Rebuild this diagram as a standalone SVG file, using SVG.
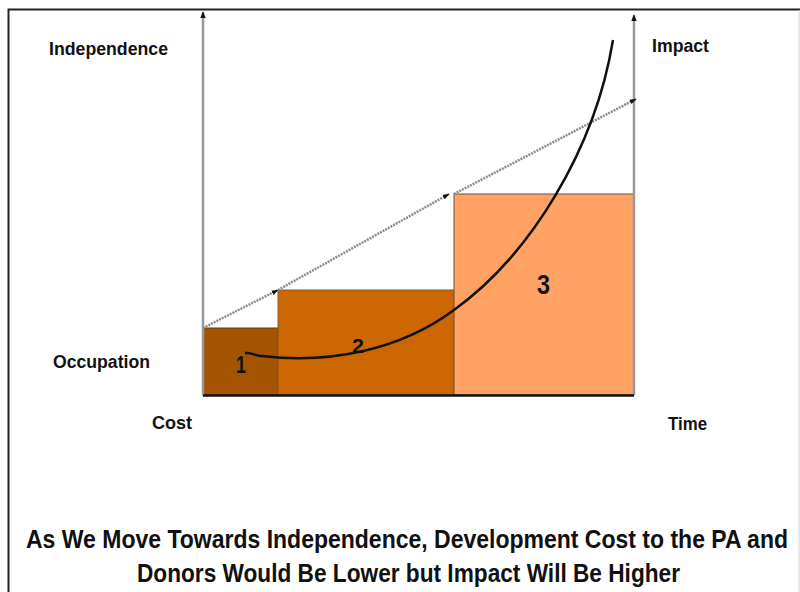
<svg xmlns="http://www.w3.org/2000/svg" width="800" height="592" viewBox="0 0 800 592">
<style>
.lbl{font-family:"Liberation Sans Narrow","Liberation Sans",Arial,sans-serif;font-weight:bold;fill:#111;}
.num{font-family:"Liberation Sans Narrow","Liberation Sans",Arial,sans-serif;font-weight:bold;fill:#111;}
.axis{stroke:#999;stroke-width:2.5;fill:none;}
.diag{stroke:#8c8c8c;stroke-width:2.5;fill:none;stroke-dasharray:2 1;}
</style>
<defs>
<marker id="ah" viewBox="0 0 10 10" refX="9" refY="5" markerWidth="7" markerHeight="7" orient="auto" markerUnits="userSpaceOnUse">
<path d="M0,1 L10,5 L0,9 Z" fill="#111"/>
</marker>
<marker id="ahs" viewBox="0 0 10 10" refX="9" refY="5" markerWidth="7" markerHeight="7" orient="auto" markerUnits="userSpaceOnUse">
<path d="M0,1.5 L10,5 L0,8.5 Z" fill="#111"/>
</marker>
</defs>
<rect width="800" height="592" fill="#fff"/>
<g id="frame">
<path d="M8.5,592 L8.5,9.5 L800,9.5" fill="none" stroke="#222" stroke-width="2"/>
<line x1="799" y1="10" x2="799" y2="592" stroke="#d0d0d0" stroke-width="1"/>
</g>
<g id="stage1"><rect x="203" y="328" width="75" height="67" fill="#A45300" stroke="#6b3a10" stroke-width="1"/></g>
<g id="stage2"><rect x="278" y="290" width="176" height="105" fill="#CC6600" stroke="#8a5a30" stroke-width="1"/></g>
<g id="stage3"><rect x="454" y="194" width="180" height="201" fill="#FFA264" stroke="#6b5040" stroke-width="1"/></g>
<g id="connectors">
<line class="axis" x1="203" y1="395" x2="203" y2="12" marker-end="url(#ah)"/>
<line class="axis" x1="634" y1="395" x2="634" y2="15" marker-end="url(#ah)"/>
<line x1="203" y1="395.5" x2="634" y2="395.5" stroke="#111" stroke-width="2.5"/>
<line class="diag" x1="203" y1="328" x2="278" y2="290" marker-end="url(#ahs)"/>
<line class="diag" x1="278" y1="290" x2="449" y2="194" marker-end="url(#ahs)"/>
<line class="diag" x1="454" y1="194" x2="636" y2="99" marker-end="url(#ahs)"/>
<path d="M245,353 C252,352 255,356 262,356 C330,364 400,350 454,310 C530,255 595,150 613,40" fill="none" stroke="#111" stroke-width="2.5"/>
</g>
<g id="label-independence"><text class="lbl" x="49" y="55" font-size="19" textLength="119" lengthAdjust="spacingAndGlyphs">Independence</text></g>
<g id="label-impact"><text class="lbl" x="652" y="52" font-size="19" textLength="57" lengthAdjust="spacingAndGlyphs">Impact</text></g>
<g id="label-occupation"><text class="lbl" x="53" y="368" font-size="19" textLength="97" lengthAdjust="spacingAndGlyphs">Occupation</text></g>
<g id="label-cost"><text class="lbl" x="152" y="429" font-size="19" textLength="40" lengthAdjust="spacingAndGlyphs">Cost</text></g>
<g id="label-time"><text class="lbl" x="668" y="430" font-size="19" textLength="39" lengthAdjust="spacingAndGlyphs">Time</text></g>
<g id="num1"><text class="num" x="236" y="373" font-size="24" textLength="10" lengthAdjust="spacingAndGlyphs">1</text></g>
<g id="num2"><text class="num" x="352" y="353" font-size="21" textLength="12" lengthAdjust="spacingAndGlyphs">2</text></g>
<g id="num3"><text class="num" x="537" y="294" font-size="27" textLength="13" lengthAdjust="spacingAndGlyphs">3</text></g>
<g id="caption">
<text class="lbl" x="26" y="548" font-size="26" textLength="762" lengthAdjust="spacingAndGlyphs">As We Move Towards Independence, Development Cost to the PA and</text>
<text class="lbl" x="137" y="582" font-size="26" textLength="543" lengthAdjust="spacingAndGlyphs">Donors Would Be Lower but Impact Will Be Higher</text>
</g>
</svg>
